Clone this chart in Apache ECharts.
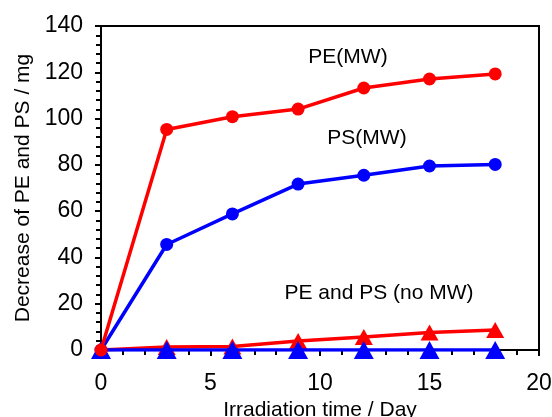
<!DOCTYPE html>
<html>
<head>
<meta charset="utf-8">
<script src="https://cdn.jsdelivr.net/npm/echarts@6/dist/echarts.min.js"></script>
<style>
html,body{margin:0;padding:0;background:#fff;}
#c{width:552px;height:417px;}
</style>
</head>
<body>
<div id="c"></div>
<script>
var days = [0, 3, 6, 9, 12, 15, 18];
var pe_mw = [0, 95.3, 100.8, 104.1, 113.2, 117.1, 119.3];
var ps_mw = [0, 45.6, 58.8, 71.7, 75.5, 79.5, 80.2];
var pe_nomw = [0, 1.3, 1.5, 3.9, 5.6, 7.6, 8.6];
var ps_nomw = [0, 0, 0, 0, 0, 0, 0];
var labels = ['PE(MW)', 'PS(MW)', 'PE and PS (no MW)'];

function pairs(v){ return days.map(function(d,i){ return [d, v[i]]; }); }

var FONT = '"Liberation Sans", Arial, sans-serif';
var chart = echarts.init(document.getElementById('c'), null, {renderer:'canvas'});
chart.setOption({
  animation:false,
  backgroundColor:'#fff',
  grid:{left:101, right:13, top:26, bottom:67, show:true, borderColor:'#000', borderWidth:2,
        backgroundColor:'transparent', containLabel:false, outerBoundsMode:'none'},
  xAxis:{
    type:'value', min:0, max:20, interval:5,
    name:'Irradiation time / Day', nameLocation:'middle', nameGap:48,
    nameTextStyle:{fontFamily:FONT, fontSize:21, color:'#000'},
    axisLine:{show:true, onZero:false, lineStyle:{color:'#000', width:2}},
    axisTick:{show:true, inside:false, length:6, lineStyle:{color:'#000', width:2}},
    minorTick:{show:true, splitNumber:5, length:5, lineStyle:{color:'#000', width:2}},
    splitLine:{show:false},
    axisLabel:{fontFamily:FONT, fontSize:23, color:'#000', margin:22}
  },
  yAxis:{
    type:'value', min:0, max:140, interval:20,
    name:'Decrease of PE and PS / mg', nameLocation:'middle', nameGap:67,
    nameTextStyle:{fontFamily:FONT, fontSize:21, color:'#000'},
    axisLine:{show:true, lineStyle:{color:'#000', width:2}},
    axisTick:{show:true, inside:false, length:6, lineStyle:{color:'#000', width:2}},
    minorTick:{show:true, splitNumber:5, length:5, lineStyle:{color:'#000', width:2}},
    splitLine:{show:false},
    axisLabel:{fontFamily:FONT, fontSize:23, color:'#000', margin:18}
  },
  series:[
    {type:'line', data:pairs(ps_nomw), symbol:'triangle', symbolSize:[20,18], color:'#0000ff',
     lineStyle:{width:3.5, color:'#0000ff'}, itemStyle:{color:'#0000ff'}, z:3},
    {type:'line', data:pairs(pe_nomw), symbol:'triangle', symbolSize:[18,16], color:'#ff0000',
     lineStyle:{width:3.5, color:'#ff0000'}, itemStyle:{color:'#ff0000'}, z:2},
    {type:'line', data:pairs(ps_mw), symbol:'circle', symbolSize:13, color:'#0000ff',
     lineStyle:{width:3.5, color:'#0000ff'}, itemStyle:{color:'#0000ff'}, z:4},
    {type:'line', data:pairs(pe_mw), symbol:'circle', symbolSize:13, color:'#ff0000',
     lineStyle:{width:3.5, color:'#ff0000'}, itemStyle:{color:'#ff0000'}, z:5}
  ],
  graphic:[
    {type:'text', x:348, y:57, style:{text:labels[0], font:'21px '+FONT, fill:'#000', align:'center', verticalAlign:'middle'}},
    {type:'text', x:367, y:138, style:{text:labels[1], font:'21px '+FONT, fill:'#000', align:'center', verticalAlign:'middle'}},
    {type:'text', x:379, y:293, style:{text:labels[2], font:'21px '+FONT, fill:'#000', align:'center', verticalAlign:'middle'}}
  ]
});
</script>
</body>
</html>
